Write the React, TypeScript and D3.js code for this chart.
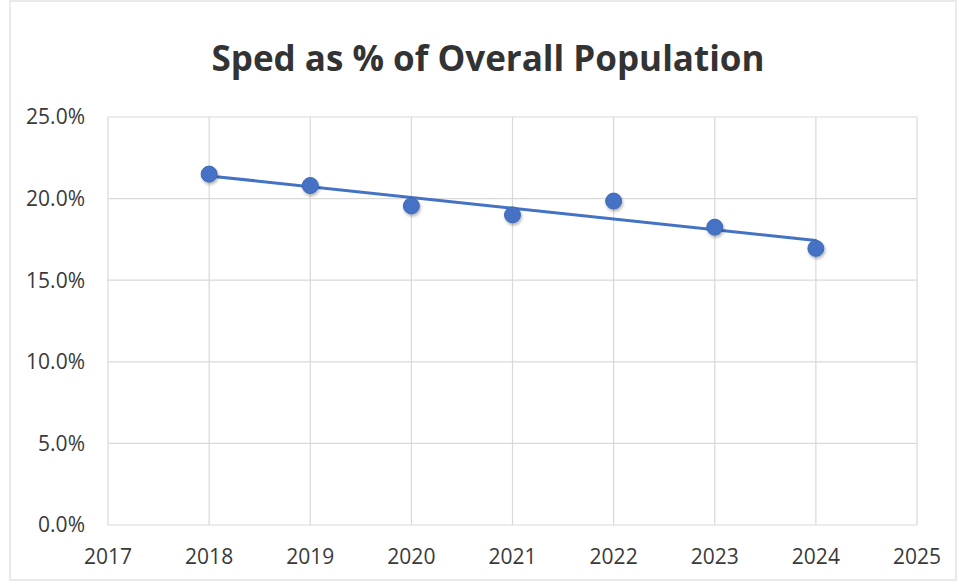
import React from 'react';
import * as d3 from 'd3';

// values
const years = [2018, 2019, 2020, 2021, 2022, 2023, 2024];
const spedPct = [21.5, 20.8, 19.55, 19.0, 19.85, 18.25, 16.95];
const xTicks = [2017, 2018, 2019, 2020, 2021, 2022, 2023, 2024, 2025];
const yTicks = [0, 5, 10, 15, 20, 25];
const title = 'Sped as % of Overall Population';

const width = 960;
const height = 587;
const margin = { top: 117, right: 43, bottom: 62, left: 108 };
const blue = '#4472C4';
const grid = '#d9d9d9';
const textColor = '#3a3a3a';
const font = "'Open Sans', 'Noto Sans', sans-serif";

// ordinary least squares, like Excel's linear trendline
function linearFit(xs: number[], ys: number[]) {
  const mx = d3.mean(xs) as number;
  const my = d3.mean(ys) as number;
  const num = d3.sum(xs, (x, i) => (x - mx) * (ys[i] - my));
  const den = d3.sum(xs, (x) => (x - mx) * (x - mx));
  const slope = num / den;
  return (x: number) => my + slope * (x - mx);
}

export default function App() {
  const innerW = width - margin.left - margin.right;
  const innerH = height - margin.top - margin.bottom;

  const x = d3.scaleLinear().domain([2017, 2025]).range([0, innerW]);
  const y = d3.scaleLinear().domain([0, 25]).range([innerH, 0]);

  const fit = linearFit(years, spedPct);
  const x0 = d3.min(years) as number;
  const x1 = d3.max(years) as number;
  const trend = d3.line<number>()
    .x((d) => x(d))
    .y((d) => y(fit(d)))([x0, x1]) as string;

  return (
    <svg
      width={width}
      height={height}
      style={{ position: 'absolute', left: 0, top: 0, display: 'block', background: '#fff' }}
    >
      <defs>
        <filter id="shadow" x="-50%" y="-50%" width="200%" height="200%">
          <feDropShadow dx="1" dy="2" stdDeviation="1.5" floodColor="#000" floodOpacity="0.3" />
        </filter>
      </defs>
      <rect x={10} y={1} width={width - 14} height={height - 8} fill="none" stroke="#e3e3e3" strokeWidth={1.5} />

      <text
        x={488}
        y={71}
        textAnchor="middle"
        fontFamily={font}
        fontWeight={700}
        fontSize={35}
        fill="#333"
      >
        {title}
      </text>

      <g transform={`translate(${margin.left},${margin.top})`}>
        {yTicks.map((t) => (
          <line key={'hy' + t} x1={0} x2={innerW} y1={y(t)} y2={y(t)} stroke={grid} strokeWidth={1.2} />
        ))}
        {xTicks.map((t) => (
          <line key={'vx' + t} x1={x(t)} x2={x(t)} y1={0} y2={innerH} stroke={grid} strokeWidth={1.2} />
        ))}

        {yTicks.map((t) => (
          <text
            key={'ly' + t}
            x={-23}
            y={y(t)}
            dy="0.35em"
            textAnchor="end"
            fontFamily={font}
            fontSize={21}
            fill={textColor}
          >
            {t.toFixed(1) + '%'}
          </text>
        ))}
        {xTicks.map((t) => (
          <text
            key={'lx' + t}
            x={x(t)}
            y={innerH + 39}
            textAnchor="middle"
            fontFamily={font}
            fontSize={21}
            fill={textColor}
          >
            {t}
          </text>
        ))}

        <path d={trend} fill="none" stroke={blue} strokeWidth={3} strokeLinecap="round" />

        {years.map((yr, i) => (
          <circle
            key={yr}
            cx={x(yr)}
            cy={y(spedPct[i])}
            r={8}
            fill={blue}
            stroke="#3f69b5"
            strokeWidth={1}
            filter="url(#shadow)"
          />
        ))}
      </g>
    </svg>
  );
}
